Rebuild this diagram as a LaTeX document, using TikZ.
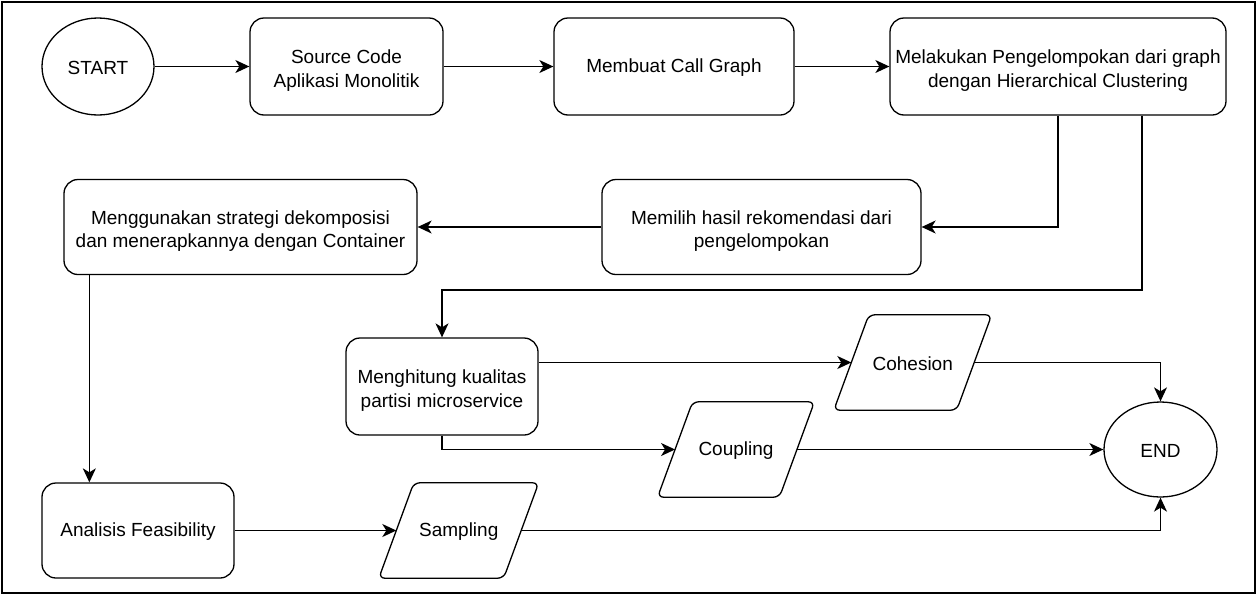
\documentclass[tikz,border=0pt]{standalone}
\usepackage{fontspec}
\setmainfont{Liberation Sans}
\usetikzlibrary{arrows.meta,calc,shapes.geometric}
\tikzset{
  every node/.style={font=\fontsize{19}{23.5}\selectfont, align=center},
  box/.style={draw, line width=1.3pt, rounded corners=14pt, inner sep=0pt},
  oval/.style={draw, line width=1.3pt, ellipse, inner sep=0pt},
  io/.style={inner sep=0pt, minimum height=95pt},
  txt/.style={inner sep=0pt},
  arr/.style={line width=1.3pt, -{Stealth[length=14pt,width=13pt,inset=4pt]}},
  frame/.style={line width=1.3pt},
}
\newcommand{\iopoly}[1]{%
  \draw[line width=1.3pt, rounded corners=6pt]
    ($(#1.north west)+(17.5,0)$) -- ($(#1.north east)+(17.5,0)$) --
    ($(#1.south east)-(17.5,0)$) -- ($(#1.south west)-(17.5,0)$) -- cycle;}
\begin{document}
\begin{tikzpicture}[x=1pt,y=-1pt]
\useasboundingbox (0,0) rectangle (1259,595);
\draw[frame] (2,2) rectangle (1255,593);

\node[oval, minimum width=112pt, minimum height=97pt] (start) at (98,66.5) {};
\node[txt] (startt) at ([yshift=-1.5pt]start.center) {START};
\node[box, minimum width=193pt, minimum height=97pt] (src) at (346.5,66.5) {};
\node[txt] (srct) at ([yshift=-4pt]src.center) {Source Code\\Aplikasi Monolitik};
\node[box, minimum width=240pt, minimum height=97pt] (call) at (674,66.5) {};
\node[txt] (callt) at ([yshift=-1.5pt]call.center) {Membuat Call Graph};
\node[box, minimum width=336pt, minimum height=97pt] (clus) at (1058,66.5) {};
\node[txt] (clust) at ([yshift=-4pt]clus.center) {Melakukan Pengelompokan dari graph\\dengan Hierarchical Clustering};

\node[box, minimum width=319pt, minimum height=95pt] (pilih) at (761.5,227) {};
\node[txt] (piliht) at ([yshift=-4pt]pilih.center) {Memilih hasil rekomendasi dari\\pengelompokan};
\node[box, minimum width=353pt, minimum height=95pt] (guna) at (240.5,227) {};
\node[txt] (gunat) at ([yshift=-4pt]guna.center) {Menggunakan strategi dekomposisi\\dan menerapkannya dengan Container};

\node[box, minimum width=192pt, minimum height=97pt] (hit) at (442,386.5) {};
\node[txt] (hitt) at ([yshift=-4pt]hit.center) {Menghitung kualitas\\partisi microservice};
\node[box, minimum width=192pt, minimum height=95pt] (anal) at (138,530.5) {};
\node[txt] (analt) at ([yshift=-1.5pt]anal.center) {Analisis Feasibility};

\node[io, minimum width=122.5pt] (coh) at (912.75,362.5) {};
\node[txt] (coht) at ([yshift=-1pt]coh.center) {Cohesion};
\node[io, minimum width=121.5pt] (coup) at (736,449.5) {};
\node[txt] (coupt) at ([yshift=-1.5pt]coup.center) {Coupling};
\node[io, minimum width=124.5pt] (samp) at (458.75,530.5) {};
\node[txt] (sampt) at ([yshift=-1.5pt]samp.center) {Sampling};
\iopoly{coh}
\iopoly{coup}
\iopoly{samp}

\node[oval, minimum width=113pt, minimum height=95pt] (end) at (1160.5,449.5) {};
\node[txt] (endt) at ([yshift=-1.5pt]end.center) {END};

\coordinate (turn) at (800,290);

\draw[arr] (start.east) -- (src.west);
\draw[arr] (src.east) -- (call.west);
\draw[arr] (call.east) -- (clus.west);
\draw[arr] (clus.south) |- (pilih.east);
\draw[arr] ($(clus.south)+(84,0)$) |- (turn) -| (hit.north);
\draw[arr] (pilih.west) -- (guna.east);
\draw[arr] ($(guna.south west)+(26,0)$) -- ($(anal.north west)+(48,0)$);
\draw[arr] (anal.east) -- (samp.west);
\draw[arr] (samp.east) -| (end.south);
\draw[arr] (hit.east |- coh.west) -- (coh.west);
\draw[arr] (hit.south) |- (coup.west);
\draw[arr] (coup.east) -- (end.west);
\draw[arr] (coh.east) -| (end.north);
\end{tikzpicture}
\end{document}
